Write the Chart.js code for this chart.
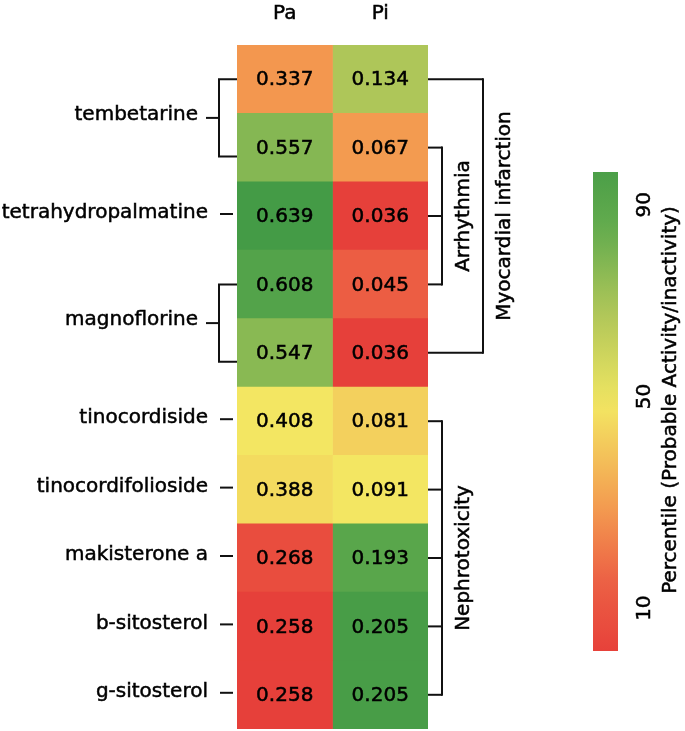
<!DOCTYPE html>
<html>
<head>
    <title>Pa / Pi heatmap</title>
    <script src="https://cdn.jsdelivr.net/npm/chart.js"></script>
    <style>
        body { margin: 0; background: #fff; }
        #wrap { width: 685px; height: 731px; }
    </style>
</head>
<body>
    <div id="wrap"><canvas id="heatmap"></canvas></div>

    <script>
        // heatmap rows, top to bottom (repeated names get one bracketed label)
        const rowNames = ["tembetarine", "tembetarine", "tetrahydropalmatine", "magnoflorine", "magnoflorine",
            "tinocordiside", "tinocordifolioside", "makisterone a", "b-sitosterol", "g-sitosterol"];
        const columns = ["Pa", "Pi"];
        const paValues = [0.337, 0.557, 0.639, 0.608, 0.547, 0.408, 0.388, 0.268, 0.258, 0.258];
        const piValues = [0.134, 0.067, 0.036, 0.045, 0.036, 0.081, 0.091, 0.193, 0.205, 0.205];
        // percentile behind each cell colour
        const paPercentile = [29, 78, 100, 93, 77, 50, 47, 7, 1, 1];
        const piPercentile = [69, 30, 1, 14, 1, 44, 50, 90, 98, 98];
        // effect groups on the right (first and last row)
        const effectNames = ["Myocardial infarction", "Arrhythmia", "Nephrotoxicity"];
        const effectFirst = [0, 1, 5];
        const effectLast = [4, 3, 9];
        const colorbarTicks = [10, 50, 90];

        const FONT = "'DejaVu Sans', sans-serif";

        // red - yellow - green colour scale
        const stops = [
            [0, [230, 62, 57]], [15, [236, 95, 68]], [30, [243, 155, 80]], [50, [243, 230, 98]],
            [70, [170, 196, 88]], [85, [100, 172, 78]], [100, [68, 155, 70]]
        ];
        function heatColor(p) {
            for (let i = 1; i < stops.length; i++) {
                if (p <= stops[i][0]) {
                    const [p0, c0] = stops[i - 1], [p1, c1] = stops[i];
                    const t = (p - p0) / (p1 - p0);
                    const c = c0.map((v, k) => Math.round(v + (c1[k] - v) * t));
                    return "rgb(" + c.join(",") + ")";
                }
            }
            return "rgb(" + stops[stops.length - 1][1].join(",") + ")";
        }

        function line(ctx, x1, y1, x2, y2) {
            ctx.beginPath();
            ctx.moveTo(x1, y1);
            ctx.lineTo(x2, y2);
            ctx.stroke();
        }
        // text with a hairline stroke so it reads a bit heavier
        function text(ctx, str, x, y) {
            ctx.save();
            ctx.lineWidth = 0.5;
            ctx.strokeStyle = ctx.fillStyle;
            ctx.fillText(str, x, y);
            ctx.strokeText(str, x, y);
            ctx.restore();
        }
        function vText(ctx, str, x, y) {
            ctx.save();
            ctx.translate(x, y);
            ctx.rotate(-Math.PI / 2);
            ctx.textAlign = "center";
            ctx.textBaseline = "middle";
            text(ctx, str, 0, 0);
            ctx.restore();
        }

        // cell numbers, row labels, brackets and colour bar
        const decorations = {
            id: "decorations",
            afterDraw(chart) {
                const ctx = chart.ctx;
                const area = chart.chartArea;
                const y = chart.scales.y;
                ctx.save();
                ctx.fillStyle = "#000";
                ctx.strokeStyle = "#111";
                ctx.lineWidth = 2;
                ctx.font = "20px " + FONT;

                // values in the cells
                ctx.textAlign = "center";
                ctx.textBaseline = "middle";
                chart.data.datasets.forEach((ds, di) => {
                    chart.getDatasetMeta(di).data.forEach((bar, i) => {
                        const c = bar.getCenterPoint();
                        text(ctx, ds.values[i].toFixed(3), c.x, c.y + 1);
                    });
                });

                // row labels on the left
                const groups = [];
                rowNames.forEach((n, i) => {
                    const g = groups[groups.length - 1];
                    if (g && g.name === n) g.last = i;
                    else groups.push({ name: n, first: i, last: i });
                });
                ctx.textAlign = "right";
                groups.forEach(g => {
                    const y0 = y.getPixelForValue(g.first);
                    if (g.first === g.last) {
                        line(ctx, area.left - 17, y0 - 2, area.left - 4, y0 - 2);
                        text(ctx, g.name, area.left - 29, y0 - 3);
                    } else {
                        const y1 = y.getPixelForValue(g.last) + 9;
                        const mid = (y0 + y1) / 2;
                        const bx = area.left - 18;
                        ctx.beginPath();
                        ctx.moveTo(area.left, y0);
                        ctx.lineTo(bx, y0);
                        ctx.lineTo(bx, y1);
                        ctx.lineTo(area.left, y1);
                        ctx.stroke();
                        line(ctx, area.left - 31, mid, bx, mid);
                        text(ctx, g.name, area.left - 39, mid - 3);
                    }
                });

                // effect brackets on the right
                effectNames.forEach((name, e) => {
                    const nested = effectNames.some((n, k) => k !== e &&
                        effectFirst[k] >= effectFirst[e] && effectLast[k] <= effectLast[e]);
                    const bx = area.right + (nested ? 55 : 14);
                    const y0 = y.getPixelForValue(effectFirst[e]);
                    const y1 = y.getPixelForValue(effectLast[e]);
                    line(ctx, bx, y0 - 1, bx, y1 + 1);
                    for (let r = effectFirst[e]; r <= effectLast[e]; r++) {
                        if (nested && r !== effectFirst[e] && r !== effectLast[e]) continue;
                        const ry = y.getPixelForValue(r);
                        line(ctx, area.right, ry, bx, ry);
                    }
                    vText(ctx, name, bx + 22, (y0 + y1) / 2);
                });

                // colour bar
                const cb = { left: 593, right: 618, top: 172, bottom: 651, min: 1.5, max: 96.5 };
                const cbY = v => cb.bottom - (v - cb.min) / (cb.max - cb.min) * (cb.bottom - cb.top);
                const grad = ctx.createLinearGradient(0, cb.bottom, 0, cb.top);
                for (let s = 0; s <= 20; s++) {
                    const v = cb.min + (cb.max - cb.min) * s / 20;
                    grad.addColorStop(s / 20, heatColor(v));
                }
                ctx.fillStyle = grad;
                ctx.fillRect(cb.left, cb.top, cb.right - cb.left, cb.bottom - cb.top);
                ctx.fillStyle = "#000";
                colorbarTicks.forEach(t => vText(ctx, String(t), 645, cbY(t) - (t === 50 ? 10 : 0)));
                vText(ctx, "Percentile (Probable Activity/inactivity)", 671, 400);
                ctx.restore();
            }
        };

        new Chart(document.getElementById("heatmap"), {
            type: "bar",
            data: {
                labels: rowNames,
                datasets: [
                    {
                        label: columns[0],
                        data: paValues.map(() => [0, 1]),
                        values: paValues,
                        backgroundColor: paPercentile.map(heatColor)
                    },
                    {
                        label: columns[1],
                        data: piValues.map(() => [1, 2]),
                        values: piValues,
                        backgroundColor: piPercentile.map(heatColor)
                    }
                ]
            },
            options: {
                indexAxis: "y",
                responsive: true,
                maintainAspectRatio: false,
                animation: false,
                layout: { padding: { left: 237, right: 257, top: 0, bottom: 2 } },
                datasets: {
                    bar: { grouped: false, barPercentage: 1, categoryPercentage: 1, borderWidth: 0 }
                },
                plugins: {
                    legend: { display: false },
                    tooltip: { enabled: false }
                },
                scales: {
                    x: {
                        type: "linear",
                        position: "top",
                        min: 0,
                        max: 2,
                        afterBuildTicks: axis => {
                            axis.ticks = columns.map((c, i) => ({ value: i + 0.5 }));
                        },
                        afterFit: axis => { axis.height = 45; },
                        ticks: {
                            padding: 19,
                            maxRotation: 0,
                            autoSkip: false,
                            color: "#000",
                            textStrokeColor: "#000",
                            textStrokeWidth: 0.5,
                            font: { family: FONT, size: 20 },
                            callback: v => columns[Math.floor(v)]
                        },
                        grid: { display: false, drawTicks: false },
                        border: { display: false }
                    },
                    y: {
                        type: "category",
                        display: false
                    }
                }
            },
            plugins: [decorations]
        });
    </script>
</body>
</html>
